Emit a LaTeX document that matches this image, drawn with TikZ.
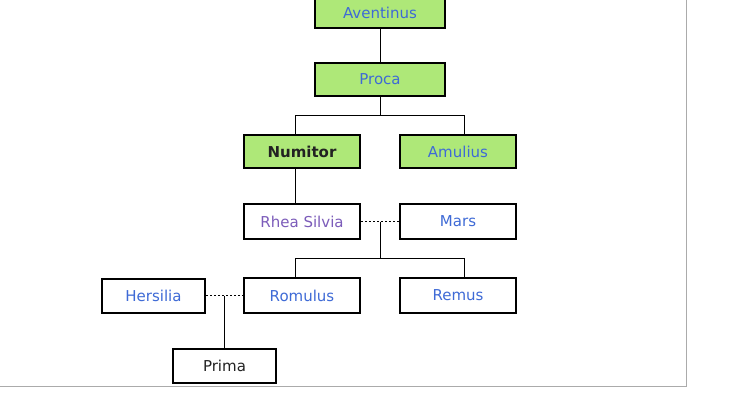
\documentclass[tikz,border=0pt]{standalone}
\usepackage{fontspec}
\setmainfont{DejaVu Sans}
\definecolor{leafgreen}{RGB}{174,232,120}
\definecolor{nameblue}{RGB}{62,106,214}
\definecolor{namepurple}{RGB}{124,92,186}
\definecolor{namedark}{RGB}{34,34,34}
\begin{document}
\begin{tikzpicture}[x=1pt,y=-1pt]
        \tikzstyle{person}=[rectangle,draw=black,line width=2pt,inner sep=0pt,minimum height=33pt,text=nameblue,font=\fontsize{15}{18}\selectfont]
        \tikzstyle{ruler}=[person,fill=leafgreen,minimum width=116pt]
        \tikzstyle{child}=[person,fill=white,minimum width=116pt,minimum height=35pt]
        \tikzstyle{small}=[person,fill=white,minimum width=103pt,minimum height=34pt]
        \tikzstyle{edge}=[draw,line width=1pt]
        \tikzstyle{wed}=[draw,line width=1pt,dash pattern=on 2pt off 2pt]
        \useasboundingbox (0,0) rectangle (738,408);
        \draw[line width=1pt,black!33] (686,0) -- (686,386) -- (0,386);
       \begin{scope}
         \node [ruler,minimum width=130pt,minimum height=31pt] (aventinus) at (380,12.5) {Aventinus};
         \node [ruler,minimum width=130pt] (proca) at (380,79.5) {Proca};
         \node [ruler,text=namedark,font=\fontsize{15}{18}\selectfont\bfseries] (numitor) at (302,151.5) {Numitor};
         \node [ruler] (amulius) at (458,151.5) {Amulius};
         \node [child,text=namepurple] (rhea) at (302,221.5) {Rhea Silvia};
         \node [child] (mars) at (458,221.5) {Mars};
         \node [small] (hersilia) at (153.5,295.5) {Hersilia};
         \node [child] (romulus) at (302,295.5) {Romulus};
         \node [child] (remus) at (458,295.5) {Remus};
         \node [small,text=namedark] (prima) at (224.5,365.5) {Prima};
         \coordinate (procabar) at (380,115);
         \coordinate (leftdrop) at (295,115);
         \coordinate (rightdrop) at (464,115);
         \coordinate (rheamars) at (380,221.5);
         \coordinate (twinbar) at (380,258);
         \coordinate (romhers) at (224.5,295.5);
         \path[edge] (aventinus) -- (proca);
         \path[edge] (proca) -- (procabar);
         \path[edge] (leftdrop |- numitor.north) -- (leftdrop) -- (rightdrop) -- (rightdrop |- amulius.north);
         \path[edge] (leftdrop |- numitor.south) -- (leftdrop |- rhea.north);
         \path[wed] (rhea) -- (mars);
         \path[edge] (rheamars) -- (twinbar);
         \path[edge] (leftdrop |- romulus.north) -- (leftdrop |- twinbar) -- (rightdrop |- twinbar) -- (rightdrop |- remus.north);
         \path[wed] (hersilia) -- (romulus);
         \path[edge] (romhers) -- (prima);
        \end{scope}
      \end{tikzpicture}
\end{document}
